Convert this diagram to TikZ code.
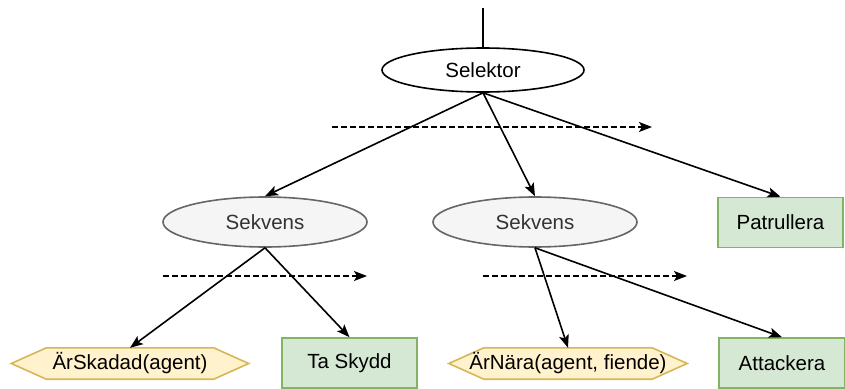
\documentclass[tikz,border=0pt]{standalone}
\usepackage{fontspec}
\setmainfont{Liberation Sans}
\usetikzlibrary{arrows.meta,shapes.geometric,backgrounds}

\definecolor{seqfill}{HTML}{F5F5F5}
\definecolor{seqline}{HTML}{666666}
\definecolor{seqtext}{HTML}{333333}
\definecolor{actfill}{HTML}{D5E8D4}
\definecolor{actline}{HTML}{82B366}
\definecolor{condfill}{HTML}{FFF2CC}
\definecolor{condline}{HTML}{D6B656}

\tikzset{
  every node/.style={font=\fontsize{20.5}{24}\selectfont, inner sep=0pt},
  selbox/.style={ellipse, draw=black, fill=white, line width=1.6pt,
    minimum width=202pt, minimum height=44pt},
  seqbox/.style={ellipse, draw=seqline, fill=seqfill, text=seqtext, line width=1.6pt,
    minimum width=204pt, minimum height=50pt},
  actbox/.style={rectangle, draw=actline, fill=actfill, line width=1.6pt,
    minimum height=50pt},
  condbox/.style={rectangle, minimum height=31pt},
  condshape/.style={draw=condline, fill=condfill, line width=1.6pt, line join=miter},
  link/.style={draw=black, line width=1.6pt,
    -{Stealth[length=13pt,width=10pt,inset=3pt]}},
  order/.style={draw=black, line width=1.6pt, dash pattern=on 5.5pt off 3.5pt,
    -{Stealth[length=13pt,width=10pt,inset=3pt]}}
}

% hexagonal outline around a condition node, #1 = node name
\newcommand{\condoutline}[1]{%
  \begin{scope}[on background layer]
    \draw[condshape] (#1.west) -- ([xshift=35pt]#1.north west)
      -- ([xshift=-35pt]#1.north east) -- (#1.east)
      -- ([xshift=-35pt]#1.south east) -- ([xshift=35pt]#1.south west) -- cycle;
  \end{scope}}

\begin{document}
\begin{tikzpicture}[x=1pt,y=-1pt]
  \useasboundingbox (0,0) rectangle (845,388);

  % root selector and its incoming stub
  \coordinate (root) at (483,8);
  \node[selbox] (sel) at (483,70) {Selektor};
  \draw[line width=1.6pt] (root) -- (sel.north);

  % second level
  \node[seqbox] (seqL) at (265,222) {Sekvens};
  \node[seqbox] (seqR) at (535,222) {Sekvens};
  \node[actbox, minimum width=125pt] (patrol) at (780.5,222.5) {Patrullera};

  % leaves
  \node[condbox, minimum width=237pt] (hurt) at (130,363.5) {ÄrSkadad(agent)};
  \condoutline{hurt}
  \node[actbox, minimum width=135pt] (cover) at (349.5,363) {Ta Skydd};
  \node[condbox, minimum width=238pt] (near) at (568,363.5) {ÄrNära(agent, fiende)};
  \condoutline{near}
  \node[actbox, minimum width=126pt] (attack) at (782,363) {Attackera};

  % tree edges
  \draw[link] (sel.south) -- (seqL.north);
  \draw[link] (sel.south) -- (seqR.north);
  \draw[link] (sel.south) -- (patrol.north);
  \draw[link] (seqL.south) -- (hurt.north);
  \draw[link] (seqL.south) -- (cover.north);
  \draw[link] (seqR.south) -- (near.north);
  \draw[link] (seqR.south) -- (attack.north);

  % evaluation order markers
  \coordinate (o1a) at (332,127);
  \coordinate (o1b) at (652,127);
  \coordinate (o2a) at (163,276);
  \coordinate (o2b) at (367,276);
  \coordinate (o3a) at (483,276);
  \coordinate (o3b) at (687,276);
  \draw[order] (o1a) -- (o1b);
  \draw[order] (o2a) -- (o2b);
  \draw[order] (o3a) -- (o3b);
\end{tikzpicture}
\end{document}
